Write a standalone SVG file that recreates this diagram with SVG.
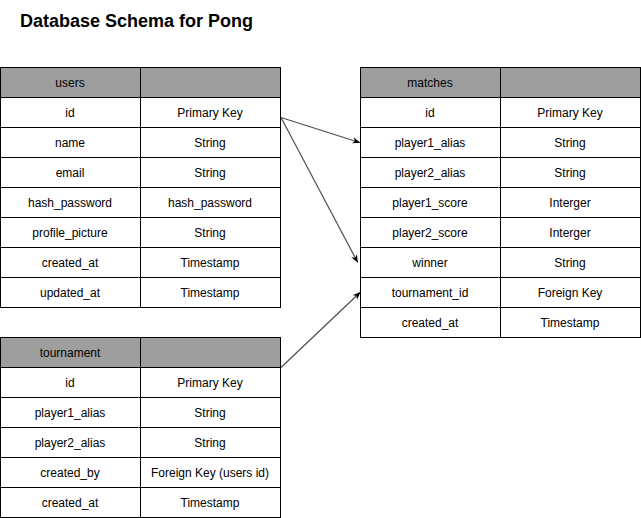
<svg xmlns="http://www.w3.org/2000/svg" width="641" height="518" viewBox="0 0 641 518">
<style>
.c{fill:#fff;stroke:#000;stroke-width:1}
.h{fill:#9e9e9e;stroke:#000;stroke-width:1}
.t{font-family:"Liberation Sans",Arial,sans-serif;font-size:12px;fill:#000;text-anchor:middle;dominant-baseline:central}
.title{font-family:"Liberation Sans",Arial,sans-serif;font-size:18px;font-weight:bold;fill:#000}
.e{fill:none;stroke:#4d4d4d;stroke-width:1.2}
</style>
<defs>
<marker id="ah" viewBox="0 0 10 10" refX="9" refY="5" markerWidth="8" markerHeight="8" markerUnits="userSpaceOnUse" orient="auto">
<path d="M0,1 L10,5 L0,9 L3,5 Z" fill="#000"/>
</marker>
</defs>
<rect width="641" height="518" fill="#fff"/>
<text class="title" x="20" y="27">Database Schema for Pong</text>

<g id="users">
<rect class="h" x="0.5" y="67.5" width="140" height="30"/><rect class="h" x="140.5" y="67.5" width="140" height="30"/>
<text class="t" x="70" y="82.5">users</text>
<rect class="c" x="0.5" y="97.5" width="140" height="30"/><rect class="c" x="140.5" y="97.5" width="140" height="30"/>
<text class="t" x="70" y="112.5">id</text><text class="t" x="210" y="112.5">Primary Key</text>
<rect class="c" x="0.5" y="127.5" width="140" height="30"/><rect class="c" x="140.5" y="127.5" width="140" height="30"/>
<text class="t" x="70" y="142.5">name</text><text class="t" x="210" y="142.5">String</text>
<rect class="c" x="0.5" y="157.5" width="140" height="30"/><rect class="c" x="140.5" y="157.5" width="140" height="30"/>
<text class="t" x="70" y="172.5">email</text><text class="t" x="210" y="172.5">String</text>
<rect class="c" x="0.5" y="187.5" width="140" height="30"/><rect class="c" x="140.5" y="187.5" width="140" height="30"/>
<text class="t" x="70" y="202.5">hash_password</text><text class="t" x="210" y="202.5">hash_password</text>
<rect class="c" x="0.5" y="217.5" width="140" height="30"/><rect class="c" x="140.5" y="217.5" width="140" height="30"/>
<text class="t" x="70" y="232.5">profile_picture</text><text class="t" x="210" y="232.5">String</text>
<rect class="c" x="0.5" y="247.5" width="140" height="30"/><rect class="c" x="140.5" y="247.5" width="140" height="30"/>
<text class="t" x="70" y="262.5">created_at</text><text class="t" x="210" y="262.5">Timestamp</text>
<rect class="c" x="0.5" y="277.5" width="140" height="30"/><rect class="c" x="140.5" y="277.5" width="140" height="30"/>
<text class="t" x="70" y="292.5">updated_at</text><text class="t" x="210" y="292.5">Timestamp</text>
</g>

<g id="matches">
<rect class="h" x="360.5" y="67.5" width="140" height="30"/><rect class="h" x="500.5" y="67.5" width="140" height="30"/>
<text class="t" x="430" y="82.5">matches</text>
<rect class="c" x="360.5" y="97.5" width="140" height="30"/><rect class="c" x="500.5" y="97.5" width="140" height="30"/>
<text class="t" x="430" y="112.5">id</text><text class="t" x="570" y="112.5">Primary Key</text>
<rect class="c" x="360.5" y="127.5" width="140" height="30"/><rect class="c" x="500.5" y="127.5" width="140" height="30"/>
<text class="t" x="430" y="142.5">player1_alias</text><text class="t" x="570" y="142.5">String</text>
<rect class="c" x="360.5" y="157.5" width="140" height="30"/><rect class="c" x="500.5" y="157.5" width="140" height="30"/>
<text class="t" x="430" y="172.5">player2_alias</text><text class="t" x="570" y="172.5">String</text>
<rect class="c" x="360.5" y="187.5" width="140" height="30"/><rect class="c" x="500.5" y="187.5" width="140" height="30"/>
<text class="t" x="430" y="202.5">player1_score</text><text class="t" x="570" y="202.5">Interger</text>
<rect class="c" x="360.5" y="217.5" width="140" height="30"/><rect class="c" x="500.5" y="217.5" width="140" height="30"/>
<text class="t" x="430" y="232.5">player2_score</text><text class="t" x="570" y="232.5">Interger</text>
<rect class="c" x="360.5" y="247.5" width="140" height="30"/><rect class="c" x="500.5" y="247.5" width="140" height="30"/>
<text class="t" x="430" y="262.5">winner</text><text class="t" x="570" y="262.5">String</text>
<rect class="c" x="360.5" y="277.5" width="140" height="30"/><rect class="c" x="500.5" y="277.5" width="140" height="30"/>
<text class="t" x="430" y="292.5">tournament_id</text><text class="t" x="570" y="292.5">Foreign Key</text>
<rect class="c" x="360.5" y="307.5" width="140" height="30"/><rect class="c" x="500.5" y="307.5" width="140" height="30"/>
<text class="t" x="430" y="322.5">created_at</text><text class="t" x="570" y="322.5">Timestamp</text>
</g>

<g id="tournament">
<rect class="h" x="0.5" y="337.5" width="140" height="30"/><rect class="h" x="140.5" y="337.5" width="140" height="30"/>
<text class="t" x="70" y="352.5">tournament</text>
<rect class="c" x="0.5" y="367.5" width="140" height="30"/><rect class="c" x="140.5" y="367.5" width="140" height="30"/>
<text class="t" x="70" y="382.5">id</text><text class="t" x="210" y="382.5">Primary Key</text>
<rect class="c" x="0.5" y="397.5" width="140" height="30"/><rect class="c" x="140.5" y="397.5" width="140" height="30"/>
<text class="t" x="70" y="412.5">player1_alias</text><text class="t" x="210" y="412.5">String</text>
<rect class="c" x="0.5" y="427.5" width="140" height="30"/><rect class="c" x="140.5" y="427.5" width="140" height="30"/>
<text class="t" x="70" y="442.5">player2_alias</text><text class="t" x="210" y="442.5">String</text>
<rect class="c" x="0.5" y="457.5" width="140" height="30"/><rect class="c" x="140.5" y="457.5" width="140" height="30"/>
<text class="t" x="70" y="472.5">created_by</text><text class="t" x="210" y="472.5">Foreign Key (users id)</text>
<rect class="c" x="0.5" y="487.5" width="140" height="30"/><rect class="c" x="140.5" y="487.5" width="140" height="30"/>
<text class="t" x="70" y="502.5">created_at</text><text class="t" x="210" y="502.5">Timestamp</text>
</g>

<g id="connectors">
<path class="e" d="M281,117.5 L359.5,142.5" marker-end="url(#ah)"/>
<path class="e" d="M281,117.5 L357.5,262" marker-end="url(#ah)"/>
<path class="e" d="M281,367.5 L360,292.5" marker-end="url(#ah)"/>
</g>
</svg>
